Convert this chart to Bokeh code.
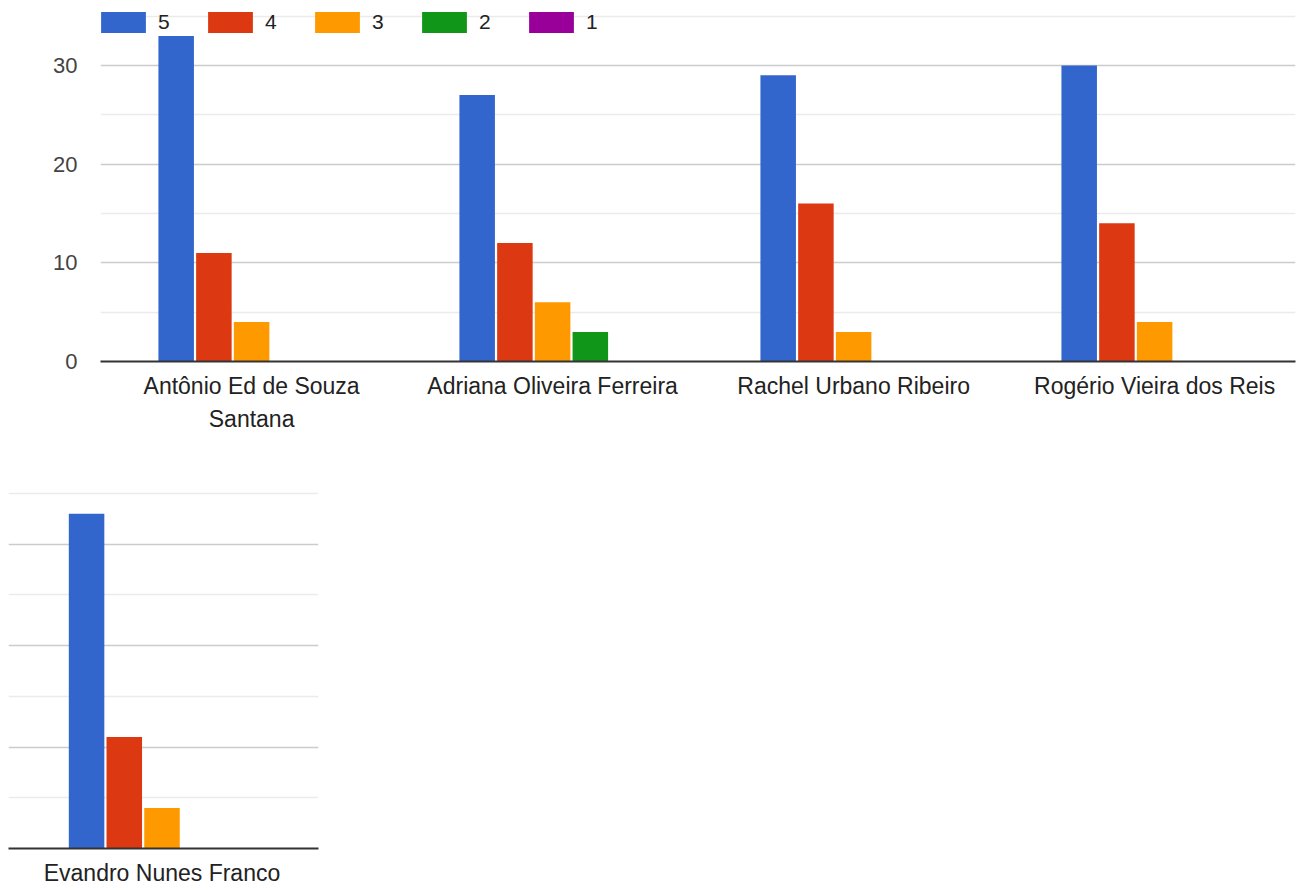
import textwrap
from bokeh.plotting import figure
from bokeh.models import ColumnDataSource, Range1d, FixedTicker, Grid, Legend, LegendItem
from bokeh.transform import dodge
from bokeh.layouts import column
from bokeh.embed import file_html
from bokeh.resources import INLINE

# ---- data ----
categories = ["Antônio Ed de Souza Santana", "Adriana Oliveira Ferreira",
              "Rachel Urbano Ribeiro", "Rogério Vieira dos Reis", "Evandro Nunes Franco"]
series_names = ["5", "4", "3", "2", "1"]
s5 = [33, 27, 29, 30, 33]
s4 = [11, 12, 16, 14, 11]
s3 = [4, 6, 3, 4, 4]
s2 = [0, 3, 0, 0, 0]
s1 = [0, 0, 0, 0, 0]
y_major = [10, 20, 30]
y_minor = [5, 15, 25, 35]
y_labels = [0, 10, 20, 30]

series = [s5, s4, s3, s2, s1]
colors = ["#3366cc", "#dc3912", "#ff9900", "#109618", "#990099"]
FONT = "Liberation Sans"
STEP = 0.1253
BW = 0.118


def make_fig(idx, width, height, xr, ytop, borders, show_y, legend):
    data = {"x": list(range(len(idx)))}
    for name, s in zip(series_names, series):
        data["v" + name] = [s[i] for i in idx]
    src = ColumnDataSource(data)
    p = figure(width=width, height=height, x_range=Range1d(*xr), y_range=Range1d(0, ytop),
               output_backend="svg", toolbar_location=None,
               min_border_left=borders[0], min_border_right=borders[1],
               min_border_top=borders[2], min_border_bottom=borders[3])
    p.frame_align = False
    p.outline_line_color = None
    p.background_fill_color = "white"
    renderers = []
    for k, name in enumerate(series_names):
        r = p.vbar(x=dodge("x", (k - 2) * STEP), top="v" + name, width=BW, bottom=0,
                   source=src, fill_color=colors[k], line_color=None)
        renderers.append(r)
    # grids
    p.xgrid.visible = False
    p.ygrid.ticker = FixedTicker(ticks=y_major)
    p.ygrid.grid_line_color = "#cccccc"
    p.ygrid.grid_line_width = 1.5
    minor = Grid(dimension=1, ticker=FixedTicker(ticks=y_minor),
                 grid_line_color="#ebebeb", grid_line_width=1.5)
    p.add_layout(minor)
    # x axis
    p.xaxis.ticker = FixedTicker(ticks=data["x"])
    p.xaxis.major_label_overrides = {i: "\n".join(textwrap.wrap(categories[c], 25))
                                     for i, c in enumerate(idx)}
    p.xaxis.axis_line_color = "#333333"
    p.xaxis.axis_line_width = 2
    p.xaxis.major_tick_line_color = None
    p.xaxis.minor_tick_line_color = None
    p.xaxis.major_tick_out = 0
    p.xaxis.major_label_standoff = 11
    p.xaxis.major_label_text_font = FONT
    p.xaxis.major_label_text_font_size = "23px"
    p.xaxis.major_label_text_color = "#222222"
    p.xaxis.major_label_text_line_height = 1.3
    # y axis
    if show_y:
        p.yaxis.ticker = FixedTicker(ticks=y_labels)
        p.yaxis.axis_line_color = None
        p.yaxis.major_tick_line_color = None
        p.yaxis.minor_tick_line_color = None
        p.yaxis.major_tick_out = 0
        p.yaxis.major_label_standoff = 23
        p.yaxis.major_label_text_font = FONT
        p.yaxis.major_label_text_font_size = "22px"
        p.yaxis.major_label_text_color = "#444444"
    else:
        p.yaxis.visible = False
    if legend:
        items = [LegendItem(label=n, renderers=[r]) for n, r in zip(series_names, renderers)]
        lg = Legend(items=items, orientation="horizontal", location=(-5, 326),
                    margin=0, padding=0, spacing=32, glyph_width=56, glyph_height=26,
                    label_standoff=7, label_width=12, label_height=26,
                    label_text_font=FONT, label_text_font_size="21px",
                    label_text_color="#222222", label_text_baseline="middle",
                    background_fill_alpha=0, border_line_alpha=0)
        p.add_layout(lg, "center")
    return p


top = make_fig([0, 1, 2, 3], 1296, 470, (-0.502, 3.468), 36.18, (100, 1, 4, 109), True, True)
bottom = make_fig([4], 320, 418, (-0.51, 0.52), 35.39, (8, 2, 19, 40), False, False)

layout = column(top, bottom, spacing=0)
open("out.html", "w").write(file_html(layout, INLINE))
